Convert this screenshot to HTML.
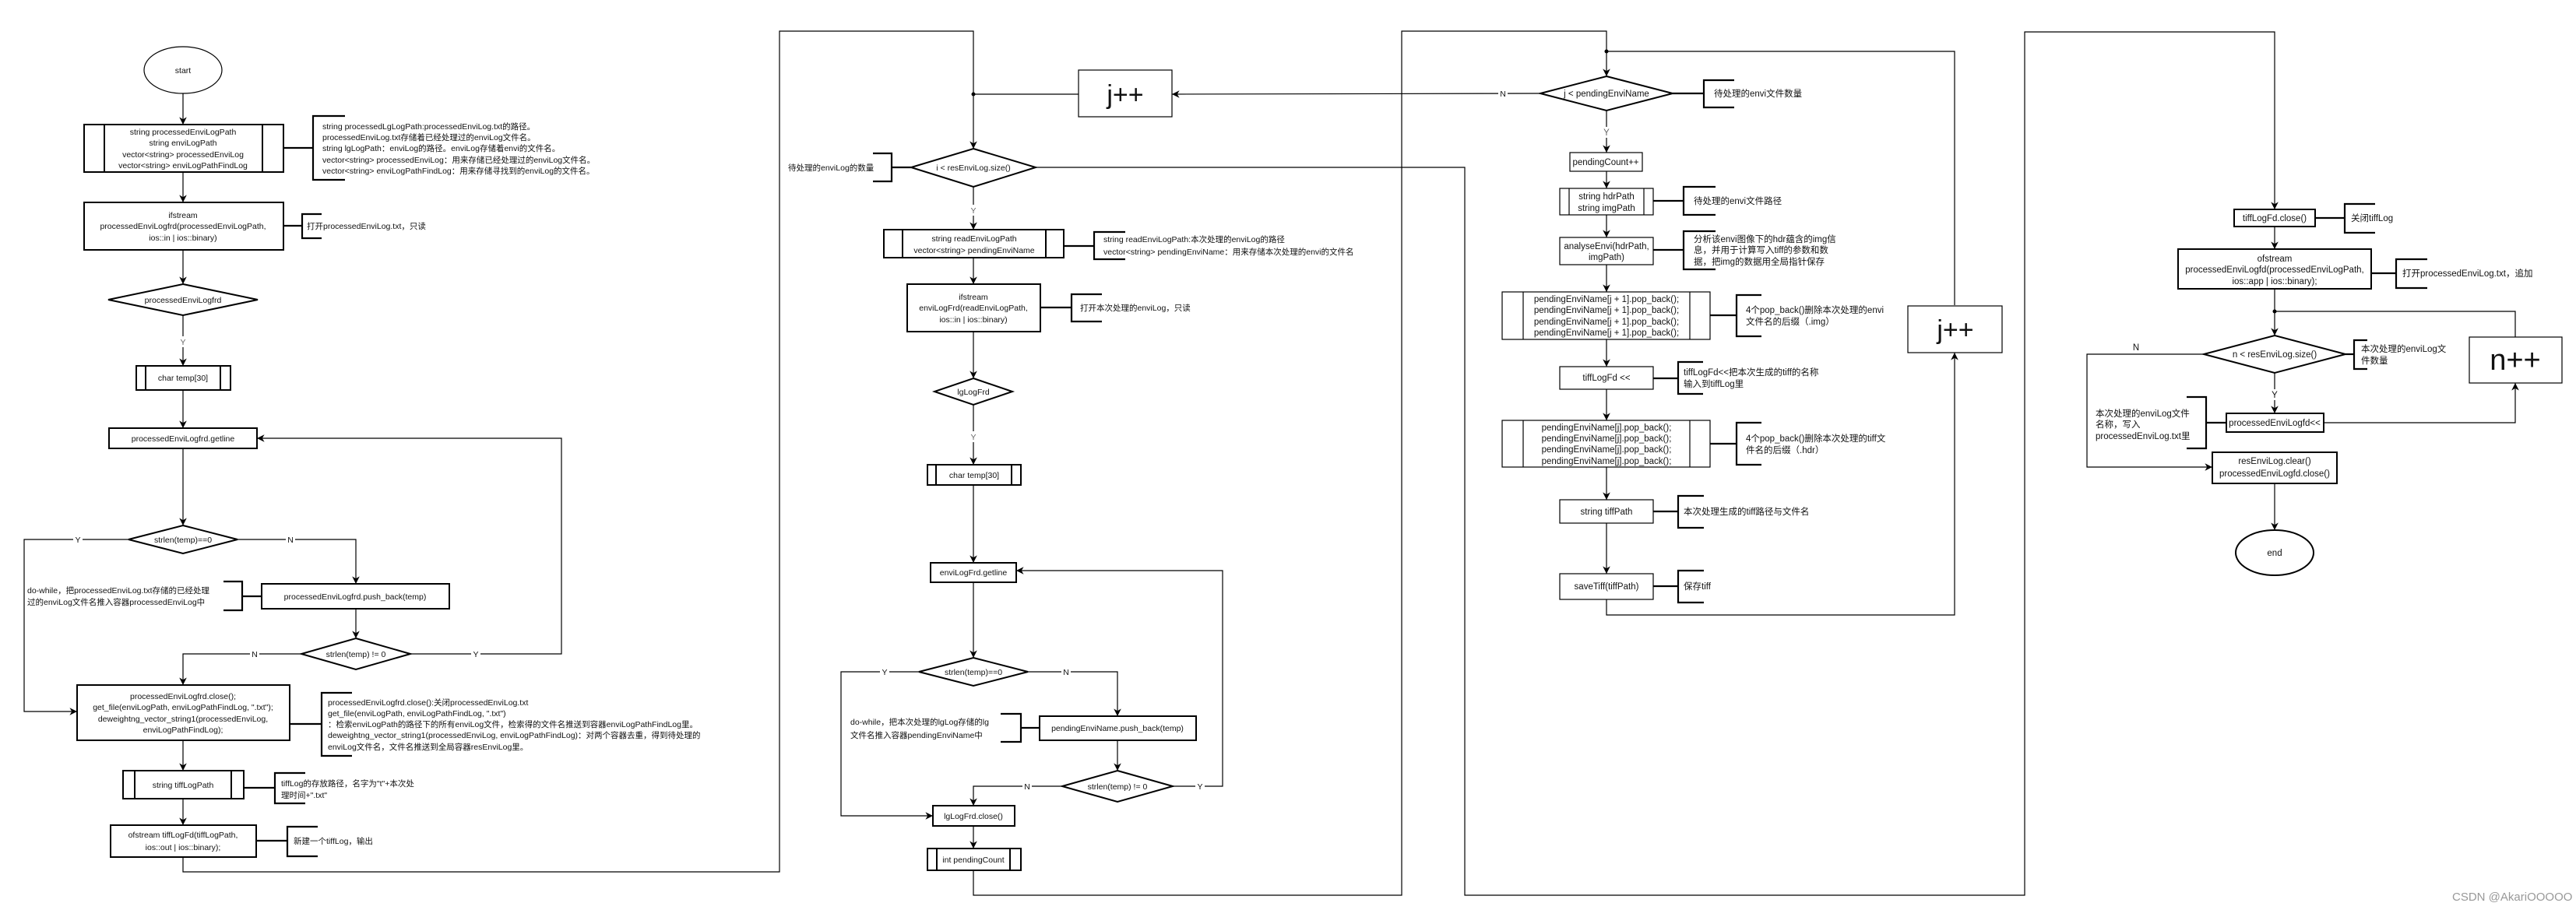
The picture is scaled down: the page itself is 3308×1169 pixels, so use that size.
<!DOCTYPE html>
<html><head><meta charset="utf-8"><style>
html,body{margin:0;padding:0;background:#fff;}
svg{display:block;}
text{font-family:"Liberation Sans","Noto Sans CJK SC",sans-serif;fill:#111;}
.a{font-size:10.5px;}
.b{font-size:11.5px;}
.c{text-anchor:middle;}
.L{fill:none;stroke:#000;stroke-width:1.2;}
.T{fill:#fff;stroke:#000;stroke-width:2;}
.t{fill:#fff;stroke:#000;stroke-width:1.2;}
.K{fill:none;stroke:#000;stroke-width:2.2;}
</style></head><body>
<svg width="3308" height="1169" viewBox="0 0 3308 1169" xmlns="http://www.w3.org/2000/svg">
<defs><marker id="ar" viewBox="0 0 10 10" refX="10" refY="5" markerWidth="8" markerHeight="8" orient="auto"><path d="M0,0 L10,5 L0,10 L3,5 z" fill="#000"/></marker></defs>

<!-- ===== Section 1 ===== -->
<ellipse cx="235" cy="90" rx="50" ry="30" class="t"/>
<text x="235" y="94" class="a c">start</text>
<line x1="235" y1="120" x2="235" y2="160" class="L" marker-end="url(#ar)"/>
<rect x="108" y="160" width="256" height="61" class="T"/>
<line x1="134" y1="160" x2="134" y2="221" class="T"/><line x1="337" y1="160" x2="337" y2="221" class="T"/>
<text class="a c"><tspan x="235" y="173">string processedEnviLogPath</tspan><tspan x="235" y="187">string enviLogPath</tspan><tspan x="235" y="202">vector&lt;string&gt; processedEnviLog</tspan><tspan x="235" y="216">vector&lt;string&gt; enviLogPathFindLog</tspan></text>
<line x1="364" y1="190" x2="402" y2="190" class="K"/>
<path d="M443,149 H402 V231 H443" class="K"/>
<text class="a"><tspan x="414" y="166">string processedLgLogPath:processedEnviLog.txt的路径。</tspan><tspan x="414" y="180">processedEnviLog.txt存储着已经处理过的enviLog文件名。</tspan><tspan x="414" y="194">string lgLogPath：enviLog的路径。enviLog存储着envi的文件名。</tspan><tspan x="414" y="209">vector&lt;string&gt; processedEnviLog：用来存储已经处理过的enviLog文件名。</tspan><tspan x="414" y="223">vector&lt;string&gt; enviLogPathFindLog：用来存储寻找到的enviLog的文件名。</tspan></text>
<line x1="235" y1="221" x2="235" y2="260" class="L" marker-end="url(#ar)"/>
<rect x="108" y="260" width="256" height="61" class="T"/>
<text class="a c"><tspan x="235" y="280">ifstream</tspan><tspan x="235" y="294">processedEnviLogfrd(processedEnviLogPath,</tspan><tspan x="235" y="309">ios::in | ios::binary)</tspan></text>
<line x1="364" y1="290" x2="388" y2="290" class="K"/>
<path d="M413,275 H388 V306 H413" class="K"/>
<text x="394" y="294" class="a">打开processedEnviLog.txt，只读</text>
<line x1="235" y1="321" x2="235" y2="365" class="L" marker-end="url(#ar)"/>
<polygon points="235,365 331,385 235,405 139,385" class="T"/>
<text x="235" y="389" class="a c">processedEnviLogfrd</text>
<line x1="235" y1="405" x2="235" y2="470" class="L" marker-end="url(#ar)"/>
<rect x="228" y="432" width="14" height="14" fill="#fff"/><text x="235" y="443" class="a c" style="fill:#666">Y</text>
<rect x="175" y="470" width="121" height="31" class="T"/>
<line x1="187" y1="470" x2="187" y2="501" class="T"/><line x1="283" y1="470" x2="283" y2="501" class="T"/>
<text x="235" y="489" class="a c">char temp[30]</text>
<line x1="235" y1="501" x2="235" y2="550" class="L" marker-end="url(#ar)"/>
<rect x="140" y="550" width="190" height="26" class="T"/>
<text x="235" y="567" class="a c">processedEnviLogfrd.getline</text>
<path d="M457,840 H721 V563 H330" class="L" marker-end="url(#ar)"/>
<line x1="235" y1="576" x2="235" y2="675" class="L" marker-end="url(#ar)"/>
<polygon points="235,675 305,693 235,711 165,693" class="T"/>
<text x="235" y="697" class="a c">strlen(temp)==0</text>
<path d="M165,693 H31 V914 H99" class="L" marker-end="url(#ar)"/>
<rect x="94" y="686" width="12" height="13" fill="#fff"/><text x="100" y="697" class="a c">Y</text>
<path d="M305,693 H457 V750" class="L" marker-end="url(#ar)"/>
<rect x="367" y="686" width="12" height="13" fill="#fff"/><text x="373" y="697" class="a c">N</text>
<rect x="336" y="750" width="241" height="32" class="T"/>
<text x="456" y="770" class="a c">processedEnviLogfrd.push_back(temp)</text>
<line x1="311" y1="766" x2="336" y2="766" class="K"/>
<path d="M287,747 H311 V784 H287" class="K"/>
<text class="a"><tspan x="35" y="762">do-while，把processedEnviLog.txt存储的已经处理</tspan><tspan x="35" y="777">过的enviLog文件名推入容器processedEnviLog中</tspan></text>
<line x1="457" y1="782" x2="457" y2="820" class="L" marker-end="url(#ar)"/>
<polygon points="457,820 527,840 457,860 387,840" class="T"/>
<text x="457" y="844" class="a c">strlen(temp) != 0</text>
<path d="M387,840 H235 V880" class="L" marker-end="url(#ar)"/>
<rect x="321" y="833" width="12" height="13" fill="#fff"/><text x="327" y="844" class="a c">N</text>
<rect x="605" y="833" width="12" height="13" fill="#fff"/><text x="611" y="844" class="a c">Y</text>
<rect x="99" y="880" width="273" height="71" class="T"/>
<text class="a c"><tspan x="235" y="898">processedEnviLogfrd.close();</tspan><tspan x="235" y="912">get_file(enviLogPath, enviLogPathFindLog, ".txt");</tspan><tspan x="235" y="927">deweightng_vector_string1(processedEnviLog,</tspan><tspan x="235" y="941">enviLogPathFindLog);</tspan></text>
<line x1="372" y1="930" x2="413" y2="930" class="K"/>
<path d="M452,890 H413 V971 H452" class="K"/>
<text class="a"><tspan x="421" y="906">processedEnviLogfrd.close():关闭processedEnviLog.txt</tspan><tspan x="421" y="920">get_file(enviLogPath, enviLogPathFindLog, ".txt")</tspan><tspan x="421" y="934">：检索enviLogPath的路径下的所有enviLog文件，检索得的文件名推送到容器enviLogPathFindLog里。</tspan><tspan x="421" y="948">deweightng_vector_string1(processedEnviLog, enviLogPathFindLog)：对两个容器去重，得到待处理的</tspan><tspan x="421" y="963">enviLog文件名，文件名推送到全局容器resEnviLog里。</tspan></text>
<line x1="235" y1="951" x2="235" y2="990" class="L" marker-end="url(#ar)"/>
<rect x="158" y="990" width="155" height="36" class="T"/>
<line x1="173" y1="990" x2="173" y2="1026" class="T"/><line x1="297" y1="990" x2="297" y2="1026" class="T"/>
<text x="235" y="1012" class="a c">string tiffLogPath</text>
<line x1="313" y1="1012" x2="353" y2="1012" class="K"/>
<path d="M392,993 H353 V1032 H392" class="K"/>
<text class="a"><tspan x="361" y="1010">tiffLog的存放路径，名字为"t"+本次处</tspan><tspan x="361" y="1025">理时间+".txt"</tspan></text>
<line x1="235" y1="1026" x2="235" y2="1060" class="L" marker-end="url(#ar)"/>
<rect x="142" y="1060" width="187" height="41" class="T"/>
<text class="a c"><tspan x="235" y="1076">ofstream tiffLogFd(tiffLogPath,</tspan><tspan x="235" y="1092">ios::out | ios::binary);</tspan></text>
<line x1="329" y1="1080" x2="369" y2="1080" class="K"/>
<path d="M408,1062 H369 V1100 H408" class="K"/>
<text x="377" y="1084" class="a">新建一个tiffLog，输出</text>
<path d="M235,1101 V1120 H1001 V40 H1250 V191" class="L" marker-end="url(#ar)"/>

<!-- ===== Section 2 ===== -->
<circle cx="1250" cy="121" r="2.5" fill="#000"/>
<line x1="1250" y1="121" x2="1385" y2="121" class="L"/>
<rect x="1385" y="90" width="120" height="60" class="t"/>
<text x="1445" y="133" class="c" style="font-size:34px">j++</text>
<line x1="1978" y1="120" x2="1505" y2="121" class="L" marker-end="url(#ar)"/>
<rect x="1924" y="113" width="12" height="13" fill="#fff"/><text x="1930" y="124" class="a c">N</text>
<polygon points="1250,191 1330,215 1250,240 1170,215" class="T"/>
<text x="1250" y="219" class="a c">i &lt; resEnviLog.size()</text>
<line x1="1145" y1="215" x2="1170" y2="215" class="K"/>
<path d="M1121,197 H1145 V233 H1121" class="K"/>
<text x="1012" y="219" class="a">待处理的enviLog的数量</text>
<path d="M1330,215 H1881 V1150 H2600 V41 H2921 V269" class="L" marker-end="url(#ar)"/>
<line x1="1250" y1="240" x2="1250" y2="295" class="L" marker-end="url(#ar)"/>
<rect x="1243" y="263" width="14" height="14" fill="#fff"/><text x="1250" y="274" class="a c" style="fill:#666">Y</text>
<rect x="1135" y="295" width="231" height="36" class="T"/>
<line x1="1159" y1="295" x2="1159" y2="331" class="T"/><line x1="1343" y1="295" x2="1343" y2="331" class="T"/>
<text class="a c"><tspan x="1251" y="310">string readEnviLogPath</tspan><tspan x="1251" y="325">vector&lt;string&gt; pendingEnviName</tspan></text>
<line x1="1366" y1="316" x2="1405" y2="316" class="K"/>
<path d="M1445,298 H1405 V333 H1445" class="K"/>
<text class="a"><tspan x="1417" y="311">string readEnviLogPath:本次处理的enviLog的路径</tspan><tspan x="1417" y="327">vector&lt;string&gt; pendingEnviName：用来存储本次处理的envi的文件名</tspan></text>
<line x1="1250" y1="331" x2="1250" y2="365" class="L" marker-end="url(#ar)"/>
<rect x="1165" y="365" width="171" height="61" class="T"/>
<text class="a c"><tspan x="1250" y="385">ifstream</tspan><tspan x="1250" y="399">enviLogFrd(readEnviLogPath,</tspan><tspan x="1250" y="414">ios::in | ios::binary)</tspan></text>
<line x1="1336" y1="395" x2="1376" y2="395" class="K"/>
<path d="M1415,378 H1376 V413 H1415" class="K"/>
<text x="1387" y="399" class="a">打开本次处理的enviLog，只读</text>
<line x1="1250" y1="426" x2="1250" y2="486" class="L" marker-end="url(#ar)"/>
<polygon points="1250,486 1300,503 1250,520 1200,503" class="T"/>
<text x="1250" y="507" class="a c">lgLogFrd</text>
<line x1="1250" y1="520" x2="1250" y2="597" class="L" marker-end="url(#ar)"/>
<rect x="1243" y="554" width="14" height="14" fill="#fff"/><text x="1250" y="565" class="a c" style="fill:#666">Y</text>
<rect x="1191" y="597" width="120" height="26" class="T"/>
<line x1="1202" y1="597" x2="1202" y2="623" class="T"/><line x1="1299" y1="597" x2="1299" y2="623" class="T"/>
<text x="1251" y="614" class="a c">char temp[30]</text>
<line x1="1250" y1="623" x2="1250" y2="723" class="L" marker-end="url(#ar)"/>
<rect x="1195" y="723" width="110" height="25" class="T"/>
<text x="1250" y="739" class="a c">enviLogFrd.getline</text>
<path d="M1506,1010 H1570 V733 H1305" class="L" marker-end="url(#ar)"/>
<line x1="1250" y1="748" x2="1250" y2="845" class="L" marker-end="url(#ar)"/>
<polygon points="1250,845 1320,863 1250,881 1180,863" class="T"/>
<text x="1250" y="867" class="a c">strlen(temp)==0</text>
<path d="M1180,863 H1080 V1048 H1198" class="L" marker-end="url(#ar)"/>
<rect x="1130" y="856" width="12" height="13" fill="#fff"/><text x="1136" y="867" class="a c">Y</text>
<path d="M1320,863 H1435 V920" class="L" marker-end="url(#ar)"/>
<rect x="1363" y="856" width="12" height="13" fill="#fff"/><text x="1369" y="867" class="a c">N</text>
<rect x="1335" y="920" width="201" height="31" class="T"/>
<text x="1435" y="939" class="a c">pendingEnviName.push_back(temp)</text>
<line x1="1311" y1="935" x2="1335" y2="935" class="K"/>
<path d="M1285,917 H1311 V953 H1285" class="K"/>
<text class="a"><tspan x="1092" y="931">do-while，把本次处理的lgLog存储的lg</tspan><tspan x="1092" y="948">文件名推入容器pendingEnviName中</tspan></text>
<line x1="1435" y1="951" x2="1435" y2="990" class="L" marker-end="url(#ar)"/>
<polygon points="1435,990 1506,1010 1435,1030 1364,1010" class="T"/>
<text x="1435" y="1014" class="a c">strlen(temp) != 0</text>
<path d="M1364,1010 H1250 V1035" class="L" marker-end="url(#ar)"/>
<rect x="1313" y="1003" width="12" height="13" fill="#fff"/><text x="1319" y="1014" class="a c">N</text>
<rect x="1535" y="1003" width="12" height="13" fill="#fff"/><text x="1541" y="1014" class="a c">Y</text>
<rect x="1198" y="1035" width="105" height="26" class="T"/>
<text x="1250" y="1052" class="a c">lgLogFrd.close()</text>
<line x1="1250" y1="1061" x2="1250" y2="1090" class="L" marker-end="url(#ar)"/>
<rect x="1191" y="1090" width="120" height="28" class="T"/>
<line x1="1203" y1="1090" x2="1203" y2="1118" class="T"/><line x1="1297" y1="1090" x2="1297" y2="1118" class="T"/>
<text x="1250" y="1108" class="a c">int pendingCount</text>
<path d="M1250,1118 V1150 H1800 V40 H2063 V98" class="L" marker-end="url(#ar)"/>

<!-- ===== Section 3 ===== -->
<circle cx="2063" cy="66" r="2.5" fill="#000"/>
<path d="M2063,66 H2510 V392" class="L"/>
<polygon points="2063,98 2148,120 2063,142 1978,120" class="T"/>
<text x="2063" y="124" class="b c">j &lt; pendingEnviName</text>
<line x1="2148" y1="120" x2="2188" y2="120" class="K"/>
<path d="M2227,103 H2188 V138 H2227" class="K"/>
<text x="2201" y="124" class="b">待处理的envi文件数量</text>
<line x1="2063" y1="142" x2="2063" y2="196" class="L" marker-end="url(#ar)"/>
<rect x="2056" y="163" width="14" height="14" fill="#fff"/><text x="2063" y="174" class="b c" style="fill:#666">Y</text>
<rect x="2016" y="196" width="93" height="24" class="t"/>
<text x="2062" y="212" class="b c">pendingCount++</text>
<line x1="2063" y1="220" x2="2063" y2="242" class="L" marker-end="url(#ar)"/>
<rect x="2003" y="242" width="120" height="34" class="t"/>
<line x1="2015" y1="242" x2="2015" y2="276" class="t"/><line x1="2111" y1="242" x2="2111" y2="276" class="t"/>
<text class="b c"><tspan x="2063" y="256">string hdrPath</tspan><tspan x="2063" y="271">string imgPath</tspan></text>
<line x1="2123" y1="258" x2="2162" y2="258" class="K"/>
<path d="M2203,240 H2162 V276 H2203" class="K"/>
<text x="2175" y="262" class="b">待处理的envi文件路径</text>
<line x1="2063" y1="276" x2="2063" y2="305" class="L" marker-end="url(#ar)"/>
<rect x="2003" y="305" width="120" height="35" class="t"/>
<text class="b c"><tspan x="2063" y="320">analyseEnvi(hdrPath,</tspan><tspan x="2063" y="334">imgPath)</tspan></text>
<line x1="2123" y1="321" x2="2162" y2="321" class="K"/>
<path d="M2203,297 H2162 V346 H2203" class="K"/>
<text class="b"><tspan x="2175" y="311">分析该envi图像下的hdr蕴含的img信</tspan><tspan x="2175" y="325">息，并用于计算写入tiff的参数和数</tspan><tspan x="2175" y="340">据，把img的数据用全局指针保存</tspan></text>
<line x1="2063" y1="340" x2="2063" y2="375" class="L" marker-end="url(#ar)"/>
<rect x="1929" y="375" width="267" height="61" class="t"/>
<line x1="1956" y1="375" x2="1956" y2="436" class="t"/><line x1="2170" y1="375" x2="2170" y2="436" class="t"/>
<text class="b c"><tspan x="2063" y="388">pendingEnviName[j + 1].pop_back();</tspan><tspan x="2063" y="402">pendingEnviName[j + 1].pop_back();</tspan><tspan x="2063" y="417">pendingEnviName[j + 1].pop_back();</tspan><tspan x="2063" y="431">pendingEnviName[j + 1].pop_back();</tspan></text>
<line x1="2196" y1="405" x2="2230" y2="405" class="K"/>
<path d="M2262,379 H2230 V432 H2262" class="K"/>
<text class="b"><tspan x="2242" y="402">4个pop_back()删除本次处理的envi</tspan><tspan x="2242" y="417">文件名的后缀（.img）</tspan></text>
<line x1="2063" y1="436" x2="2063" y2="471" class="L" marker-end="url(#ar)"/>
<rect x="2003" y="471" width="120" height="29" class="t"/>
<text x="2063" y="489" class="b c">tiffLogFd &lt;&lt;</text>
<line x1="2123" y1="486" x2="2155" y2="486" class="K"/>
<path d="M2187,465 H2155 V506 H2187" class="K"/>
<text class="b"><tspan x="2162" y="482">tiffLogFd&lt;&lt;把本次生成的tiff的名称</tspan><tspan x="2162" y="497">输入到tiffLog里</tspan></text>
<line x1="2063" y1="500" x2="2063" y2="540" class="L" marker-end="url(#ar)"/>
<rect x="1929" y="540" width="267" height="60" class="t"/>
<line x1="1956" y1="540" x2="1956" y2="600" class="t"/><line x1="2170" y1="540" x2="2170" y2="600" class="t"/>
<text class="b c"><tspan x="2063" y="553">pendingEnviName[j].pop_back();</tspan><tspan x="2063" y="567">pendingEnviName[j].pop_back();</tspan><tspan x="2063" y="581">pendingEnviName[j].pop_back();</tspan><tspan x="2063" y="596">pendingEnviName[j].pop_back();</tspan></text>
<line x1="2196" y1="570" x2="2230" y2="570" class="K"/>
<path d="M2262,543 H2230 V597 H2262" class="K"/>
<text class="b"><tspan x="2242" y="567">4个pop_back()删除本次处理的tiff文</tspan><tspan x="2242" y="582">件名的后缀（.hdr）</tspan></text>
<line x1="2063" y1="600" x2="2063" y2="642" class="L" marker-end="url(#ar)"/>
<rect x="2003" y="642" width="120" height="30" class="t"/>
<text x="2063" y="661" class="b c">string tiffPath</text>
<line x1="2123" y1="657" x2="2155" y2="657" class="K"/>
<path d="M2188,637 H2155 V678 H2188" class="K"/>
<text x="2162" y="661" class="b">本次处理生成的tiff路径与文件名</text>
<line x1="2063" y1="672" x2="2063" y2="737" class="L" marker-end="url(#ar)"/>
<rect x="2003" y="737" width="120" height="33" class="t"/>
<text x="2063" y="757" class="b c">saveTiff(tiffPath)</text>
<line x1="2123" y1="753" x2="2155" y2="753" class="K"/>
<path d="M2188,733 H2155 V774 H2188" class="K"/>
<text x="2162" y="757" class="b">保存tiff</text>
<path d="M2063,770 V790 H2510 V453" class="L" marker-end="url(#ar)"/>
<rect x="2450" y="393" width="121" height="60" class="t"/>
<text x="2511" y="435" class="c" style="font-size:34px">j++</text>

<!-- ===== Section 4 ===== -->
<rect x="2869" y="269" width="104" height="22" class="T"/>
<text x="2921" y="284" class="b c">tiffLogFd.close()</text>
<line x1="2973" y1="280" x2="3011" y2="280" class="K"/>
<path d="M3050,262 H3011 V299 H3050" class="K"/>
<text x="3019" y="284" class="b">关闭tiffLog</text>
<line x1="2921" y1="291" x2="2921" y2="320" class="L" marker-end="url(#ar)"/>
<rect x="2797" y="320" width="248" height="51" class="T"/>
<text class="b c"><tspan x="2921" y="336">ofstream</tspan><tspan x="2921" y="350">processedEnviLogfd(processedEnviLogPath,</tspan><tspan x="2921" y="365">ios::app | ios::binary);</tspan></text>
<line x1="3045" y1="351" x2="3077" y2="351" class="K"/>
<path d="M3117,333 H3077 V370 H3117" class="K"/>
<text x="3085" y="355" class="b">打开processedEnviLog.txt，追加</text>
<line x1="2921" y1="371" x2="2921" y2="431" class="L" marker-end="url(#ar)"/>
<circle cx="2921" cy="400" r="2.5" fill="#000"/>
<path d="M2921,400 H3230 V433" class="L"/>
<polygon points="2921,431 3012,455 2921,479 2830,455" class="T"/>
<text x="2921" y="459" class="b c">n &lt; resEnviLog.size()</text>
<line x1="3012" y1="455" x2="3023" y2="455" class="K"/>
<path d="M3040,437 H3023 V474 H3040" class="K"/>
<text class="b"><tspan x="3032" y="452">本次处理的enviLog文</tspan><tspan x="3032" y="467">件数量</tspan></text>
<path d="M2830,455 H2680 V600 H2841" class="L" marker-end="url(#ar)"/>
<text x="2743" y="450" class="b c">N</text>
<line x1="2921" y1="479" x2="2921" y2="531" class="L" marker-end="url(#ar)"/>
<rect x="2914" y="500" width="14" height="14" fill="#fff"/><text x="2921" y="511" class="b c">Y</text>
<rect x="2859" y="531" width="125" height="24" class="T"/>
<text x="2921" y="547" class="b c">processedEnviLogfd&lt;&lt;</text>
<path d="M2984,543 H3230 V492" class="L" marker-end="url(#ar)"/>
<rect x="3171" y="433" width="119" height="59" class="t"/>
<text x="3230" y="475" class="c" style="font-size:38px">n++</text>
<line x1="2833" y1="543" x2="2859" y2="543" class="K"/>
<path d="M2808,510 H2833 V576 H2808" class="K"/>
<text class="b"><tspan x="2691" y="535">本次处理的enviLog文件</tspan><tspan x="2691" y="549">名称，写入</tspan><tspan x="2691" y="564">processedEnviLog.txt里</tspan></text>
<rect x="2841" y="581" width="160" height="40" class="T"/>
<text class="b c"><tspan x="2921" y="596">resEnviLog.clear()</tspan><tspan x="2921" y="612">processedEnviLogfd.close()</tspan></text>
<line x1="2921" y1="621" x2="2921" y2="681" class="L" marker-end="url(#ar)"/>
<ellipse cx="2921" cy="710" rx="50" ry="29" class="T"/>
<text x="2921" y="714" class="b c">end</text>

<text x="3149" y="1157" style="font-size:15px;fill:#999">CSDN @AkariOOOOO</text>
</svg>
</body></html>
